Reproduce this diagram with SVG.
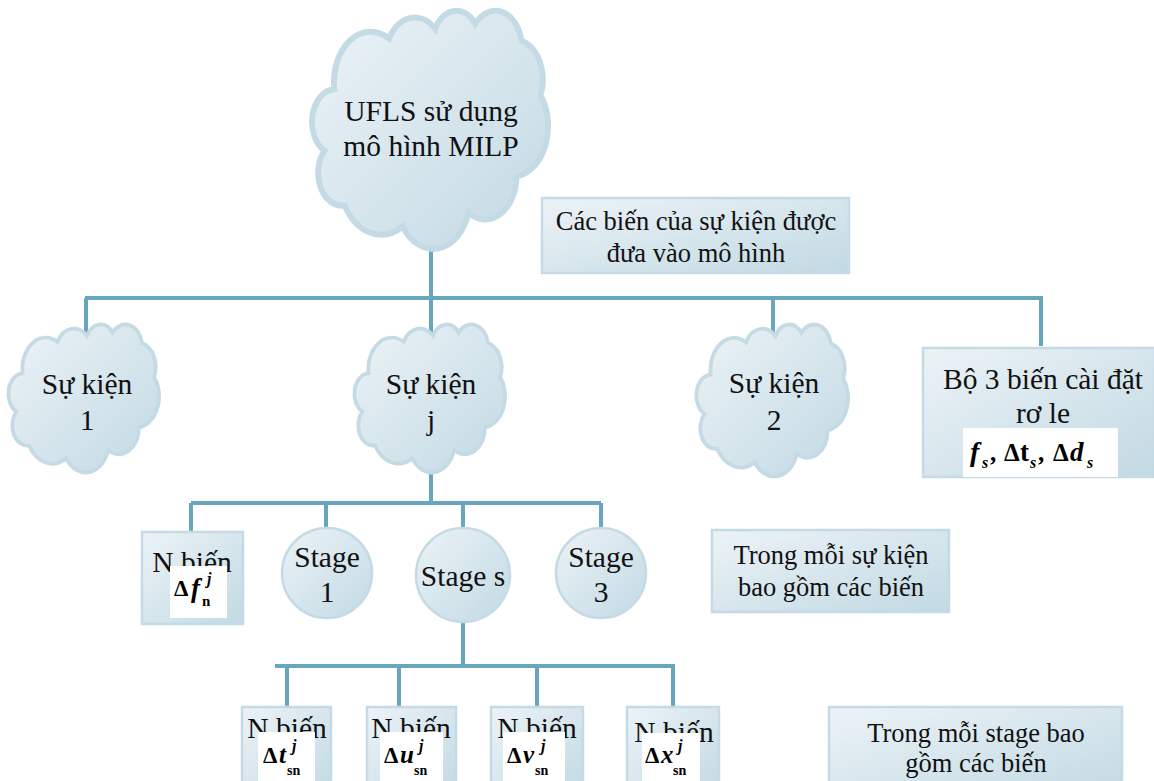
<svg xmlns="http://www.w3.org/2000/svg" xmlns:xlink="http://www.w3.org/1999/xlink" width="1154" height="781" viewBox="0 0 1154 781">
  <defs>
    <linearGradient id="fillGrad" x1="0" y1="0" x2="1" y2="1">
      <stop offset="0" stop-color="#ecf3f7"/>
      <stop offset="1" stop-color="#c2d9e3"/>
    </linearGradient>
    <!-- cloud outline in a 100x100 box -->
    <path id="cloud" d="M9.03,33.26 A15.63,21.27 0 0 1 32.42,12.04 A12.34,16.82 0 0 1 51.99,7.95 A10.1,13.76 0 0 1 69.06,5.75 A11.24,15.27 0 0 1 88.71,12.91 A12.34,16.84 0 0 1 96.81,35.79 A15.68,21.34 0 0 1 86.6,69.93 A13.39,18.21 0 0 1 66.11,85.23 A15.63,21.33 0 0 1 38.16,90.9 A17.87,24.41 0 0 1 13.45,82.11 A10.09,13.7 0 0 1 4.9,59.14 A10.06,13.76 0 0 1 9.03,33.26 Z"/>
    <style>
      .shape { fill:url(#fillGrad); stroke:#c4dbe5; stroke-width:2.5; vector-effect:non-scaling-stroke; }
      .conn { fill:none; stroke:#67a6be; stroke-width:4; }
      .t { font-family:"Liberation Serif","Times New Roman",serif; font-size:29.5px; fill:#111; text-anchor:middle; }
      .s { font-size:26.5px; }
      .pad { fill:#ffffff; }
      .m { font-family:"Liberation Serif","Times New Roman",serif; font-weight:bold; fill:#000; }
      .i { font-style:italic; }
    </style>
  </defs>

  <!-- connectors -->
  <g id="connectors" class="conn">
    <path d="M431,240 V298 M85,298 H1043 M86,298 V343 M431,298 V343 M773,298 V343 M1041,298 V346"/>
    <path d="M431,465 V503 M191,503 H601 M191,503 V532 M326,505 V530 M463,505 V530 M601,503 V530"/>
    <path d="M463,620 V666 M275,666 H675 M287,666 V708 M399,666 V708 M537,666 V708 M673,666 V708"/>
  </g>

  <!-- root -->
  <g id="root">
    <use xlink:href="#cloud" class="shape" transform="translate(313,10) scale(2.35,2.38)"/>
    <text class="t" x="431" y="121">UFLS sử dụng</text>
    <text class="t" x="431" y="156">mô hình MILP</text>
  </g>

  <g id="note-events">
    <rect class="shape" x="542" y="198" width="307" height="75"/>
    <text class="t s" x="696" y="230">Các biến của sự kiện được</text>
    <text class="t s" x="696" y="262">đưa vào mô hình</text>
  </g>

  <g id="event-1">
    <use xlink:href="#cloud" class="shape" transform="translate(9,324) scale(1.5,1.48)"/>
    <text class="t" x="87" y="394">Sự kiện</text>
    <text class="t" x="87" y="430">1</text>
  </g>

  <g id="event-j">
    <use xlink:href="#cloud" class="shape" transform="translate(355,324) scale(1.5,1.48)"/>
    <text class="t" x="431" y="394">Sự kiện</text>
    <text class="t" x="431" y="430">j</text>
  </g>

  <g id="event-2">
    <use xlink:href="#cloud" class="shape" transform="translate(697,324) scale(1.51,1.52)"/>
    <text class="t" x="774" y="393">Sự kiện</text>
    <text class="t" x="774" y="430">2</text>
  </g>

  <g id="relay-settings">
    <rect class="shape" x="923" y="348" width="232" height="129"/>
    <text class="t" x="1043" y="389">Bộ 3 biến cài đặt</text>
    <text class="t" x="1043" y="423">rơ le</text>
    <rect class="pad" x="963" y="428" width="155" height="49"/>
    <text class="m" font-size="25">
      <tspan class="i" x="970" y="461" font-size="28">f</tspan><tspan class="i" x="982" y="468" font-size="16">s</tspan><tspan x="990" y="461">,</tspan>
      <tspan x="1004" y="461">Δ</tspan><tspan x="1020" y="461" font-size="27">t</tspan><tspan class="i" x="1030" y="468" font-size="16">s</tspan><tspan x="1038" y="461">,</tspan>
      <tspan x="1053" y="461">Δ</tspan><tspan class="i" x="1070" y="461" font-size="27">d</tspan><tspan class="i" x="1087" y="468" font-size="16">s</tspan>
    </text>
  </g>

  <g id="vars-f">
    <rect class="shape" x="142" y="532" width="101" height="92"/>
    <text class="t" x="192" y="572" font-size="27">N biến</text>
    <rect class="pad" x="170" y="566" width="57" height="52"/>
    <text class="m" font-size="23">
      <tspan x="174" y="596">Δ</tspan><tspan class="i" x="191" y="597" font-size="27">f</tspan><tspan class="i" x="207" y="584" font-size="16">j</tspan><tspan x="202" y="606" font-size="15">n</tspan>
    </text>
  </g>

  <g id="stage-1">
    <circle class="shape" cx="327" cy="573" r="45"/>
    <text class="t" x="327" y="567">Stage</text>
    <text class="t" x="327" y="602">1</text>
  </g>

  <g id="stage-s">
    <circle class="shape" cx="463" cy="575" r="47"/>
    <text class="t" x="463" y="586">Stage s</text>
  </g>

  <g id="stage-3">
    <circle class="shape" cx="601" cy="573" r="45"/>
    <text class="t" x="601" y="567">Stage</text>
    <text class="t" x="601" y="602">3</text>
  </g>

  <g id="note-event-vars">
    <rect class="shape" x="712" y="530" width="237" height="82"/>
    <text class="t s" x="831" y="564">Trong mỗi sự kiện</text>
    <text class="t s" x="831" y="596">bao gồm các biến</text>
  </g>

  <g id="vars-t">
    <rect class="shape" x="242" y="707" width="89" height="90"/>
    <text class="t" x="287" y="738">N biến</text>
    <rect class="pad" x="258" y="732" width="57" height="60"/>
    <text class="m" font-size="23">
      <tspan x="263" y="763">Δ</tspan><tspan class="i" x="279" y="763" font-size="25">t</tspan><tspan class="i" x="292" y="751" font-size="16">j</tspan><tspan x="287" y="775" font-size="14">sn</tspan>
    </text>
  </g>

  <g id="vars-u">
    <rect class="shape" x="367" y="707" width="89" height="90"/>
    <text class="t" x="411" y="738">N biến</text>
    <rect class="pad" x="380" y="732" width="63" height="60"/>
    <text class="m" font-size="23">
      <tspan x="384" y="763">Δ</tspan><tspan class="i" x="400" y="763" font-size="25">u</tspan><tspan class="i" x="419" y="751" font-size="16">j</tspan><tspan x="414" y="775" font-size="14">sn</tspan>
    </text>
  </g>

  <g id="vars-v">
    <rect class="shape" x="491" y="707" width="92" height="90"/>
    <text class="t" x="537" y="738">N biến</text>
    <rect class="pad" x="503" y="732" width="62" height="60"/>
    <text class="m" font-size="23">
      <tspan x="507" y="763">Δ</tspan><tspan class="i" x="523" y="763" font-size="25">v</tspan><tspan class="i" x="541" y="751" font-size="16">j</tspan><tspan x="535" y="775" font-size="14">sn</tspan>
    </text>
  </g>

  <g id="vars-x">
    <rect class="shape" x="627" y="707" width="92" height="90"/>
    <text class="t" x="674" y="742">N biến</text>
    <rect class="pad" x="642" y="733" width="58" height="60"/>
    <text class="m" font-size="23">
      <tspan x="645" y="763">Δ</tspan><tspan class="i" x="661" y="763" font-size="25">x</tspan><tspan class="i" x="678" y="751" font-size="16">j</tspan><tspan x="673" y="775" font-size="14">sn</tspan>
    </text>
  </g>

  <g id="note-stage-vars">
    <rect class="shape" x="829" y="707" width="293" height="90"/>
    <text class="t s" x="976" y="742">Trong mỗi stage bao</text>
    <text class="t s" x="976" y="772">gồm các biến</text>
  </g>
</svg>
